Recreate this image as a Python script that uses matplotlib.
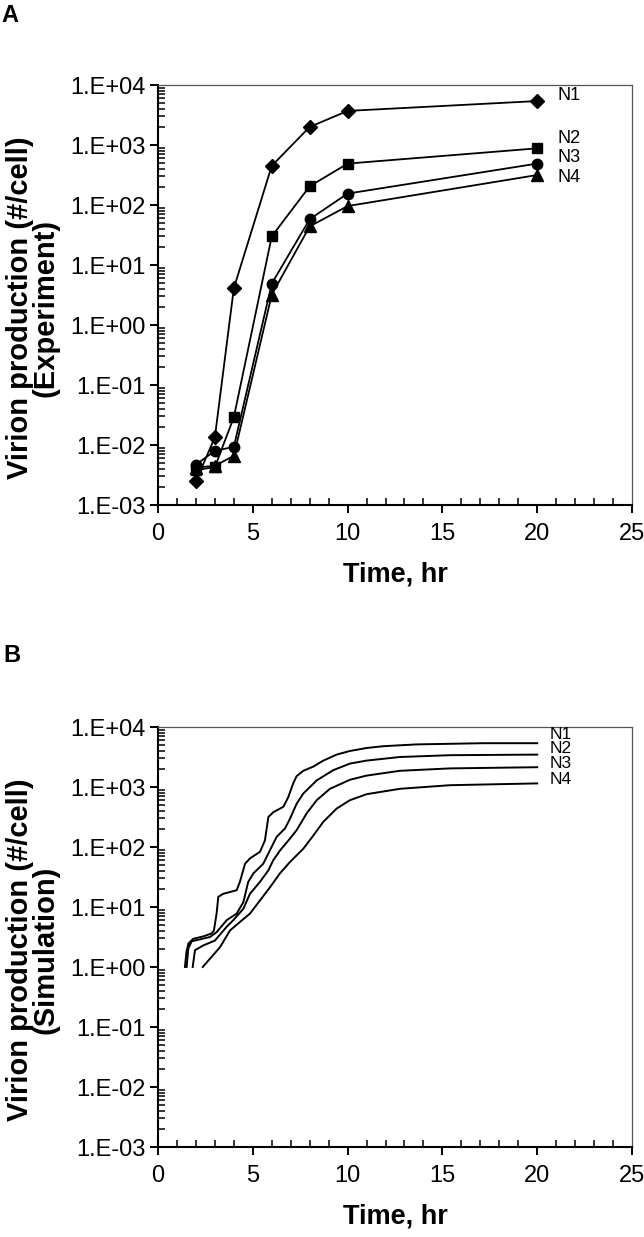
import numpy as np
import matplotlib.pyplot as plt
from matplotlib.ticker import FixedLocator, FixedFormatter, LogLocator, MultipleLocator, NullFormatter

plt.rcParams["font.family"] = ["Liberation Sans", "DejaVu Sans"]

# panel A: experiment (time in hr, virions per cell)
t_exp = [2, 3, 4, 6, 8, 10, 20]
n1_exp = [0.0025, 0.0135, 4.1, 450, 2000, 3700, 5400]
n2_exp = [0.0038, 0.0043, 0.029, 30, 205, 490, 880]
n3_exp = [0.0047, 0.008, 0.0093, 4.9, 58, 155, 490]
n4_exp = [0.0042, 0.0045, 0.0066, 3.2, 44, 96, 316]

t_n1 = [1.42, 1.5, 1.6, 1.86, 2.39, 2.83, 2.95, 3.09, 3.18, 3.44, 3.8, 4.15, 4.32, 4.59, 4.85,
        5.38, 5.64, 5.82, 6.08, 6.61, 6.87, 7.13, 7.31, 7.66, 8.19, 8.72, 9.42, 10.12, 11.0,
        11.88, 13.64, 15.4, 17.15, 20.0]
v_n1 = [0.0, 0.25, 0.39, 0.47, 0.51, 0.56, 0.61, 0.89, 1.17, 1.22, 1.25, 1.28, 1.42, 1.72, 1.81,
        1.92, 2.11, 2.5, 2.58, 2.67, 2.83, 3.06, 3.18, 3.27, 3.34, 3.44, 3.54, 3.6, 3.65,
        3.68, 3.71, 3.72, 3.73, 3.73]
t_n2 = [1.51, 1.6, 1.78, 2.21, 2.74, 3.09, 3.62, 4.15, 4.5, 4.76, 5.03, 5.55, 5.99, 6.26, 6.7,
        6.96, 7.31, 7.66, 8.37, 9.24, 10.12, 11.0, 12.76, 15.4, 20.0]
v_n2 = [0.0, 0.31, 0.43, 0.46, 0.5, 0.58, 0.78, 0.89, 1.08, 1.42, 1.56, 1.72, 2.0, 2.17, 2.31,
        2.47, 2.72, 2.89, 3.11, 3.28, 3.39, 3.44, 3.5, 3.53, 3.54]
t_n3 = [1.83, 1.95, 2.39, 3.0, 3.62, 3.97, 4.5, 4.85, 5.38, 5.82, 6.08, 6.43, 6.96, 7.31, 7.84,
        8.37, 9.07, 10.12, 11.0, 12.76, 15.4, 20.0]
v_n3 = [0.0, 0.28, 0.36, 0.44, 0.67, 0.78, 0.97, 1.22, 1.42, 1.61, 1.78, 1.94, 2.14, 2.28, 2.56,
        2.78, 2.97, 3.12, 3.19, 3.27, 3.31, 3.33]
t_n4 = [2.36, 2.83, 3.27, 3.8, 4.32, 4.85, 5.38, 5.91, 6.43, 6.96, 7.66, 8.19, 8.72, 9.42, 10.12,
        11.0, 12.76, 15.4, 20.0]
v_n4 = [0.0, 0.17, 0.33, 0.61, 0.75, 0.89, 1.11, 1.33, 1.56, 1.75, 1.97, 2.19, 2.42, 2.64, 2.78,
        2.88, 2.97, 3.03, 3.06]

series_names = ["N1", "N2", "N3", "N4"]
y_ticks = [1e-3, 1e-2, 1e-1, 1e0, 1e1, 1e2, 1e3, 1e4]
y_ticklabels = ["1.E-03", "1.E-02", "1.E-01", "1.E+00", "1.E+01", "1.E+02", "1.E+03", "1.E+04"]

fig = plt.figure(figsize=(6.44, 12.37), dpi=100)
axA = fig.add_axes([158 / 644, 1 - 505 / 1237, 474 / 644, 420 / 1237])
axB = fig.add_axes([158 / 644, 1 - 1147 / 1237, 474 / 644, 420 / 1237])


def style_axis(ax, ylabel):
    ax.set_yscale("log")
    ax.set_ylim(1e-3, 1e4)
    ax.set_xlim(0, 25)
    ax.yaxis.set_major_locator(FixedLocator(y_ticks))
    ax.yaxis.set_major_formatter(FixedFormatter(y_ticklabels))
    ax.yaxis.set_minor_locator(LogLocator(base=10, subs=np.arange(2, 10)))
    ax.yaxis.set_minor_formatter(NullFormatter())
    ax.xaxis.set_major_locator(MultipleLocator(5))
    ax.xaxis.set_minor_locator(MultipleLocator(1))
    ax.tick_params(which="major", direction="out", length=6, width=1.4, labelsize=17, pad=3)
    ax.tick_params(which="minor", direction="in", length=5, width=1.1)
    ax.tick_params(axis="x", which="major", pad=7)
    for s in ["left", "bottom"]:
        ax.spines[s].set_linewidth(1.5)
    for s in ["top", "right"]:
        ax.spines[s].set_linewidth(0.9)
        ax.spines[s].set_color("#555555")
    ax.set_xlabel("Time, hr", fontsize=19.5, fontweight="bold", labelpad=12)
    ax.set_ylabel(ylabel, fontsize=21, fontweight="bold", linespacing=0.9)
    ax.yaxis.set_label_coords(-0.208, 0.47)


# panel A
markers = ["D", "s", "o", "^"]
msizes = [7, 7, 7.5, 8]
exp_series = [n1_exp, n2_exp, n3_exp, n4_exp]
for vals, m, ms in zip(exp_series, markers, msizes):
    axA.plot(t_exp, vals, color="black", lw=1.3, marker=m, ms=ms)
label_y_A = [6800, 1260, 630, 290]
for name, yv in zip(series_names, label_y_A):
    axA.text(21.05, yv, name, fontsize=13, va="center", ha="left")
style_axis(axA, "Virion production (#/cell)\n(Experiment)")

# panel B
sim_t = [t_n1, t_n2, t_n3, t_n4]
sim_v = [v_n1, v_n2, v_n3, v_n4]
for tt, vv in zip(sim_t, sim_v):
    axB.plot(tt, 10 ** np.array(vv), color="black", lw=1.4)
label_y_B = [7400, 4300, 2450, 1350]
for name, yv in zip(series_names, label_y_B):
    axB.text(20.65, yv, name, fontsize=12.5, va="center", ha="left")
style_axis(axB, "Virion production (#/cell)\n(Simulation)")

fig.text(1 / 644, 1 - 16 / 1237, "A", fontsize=17, fontweight="bold", va="center", ha="left")
fig.text(3 / 644, 1 - 655 / 1237, "B", fontsize=17, fontweight="bold", va="center", ha="left")

fig.savefig("out.png", dpi=100)
